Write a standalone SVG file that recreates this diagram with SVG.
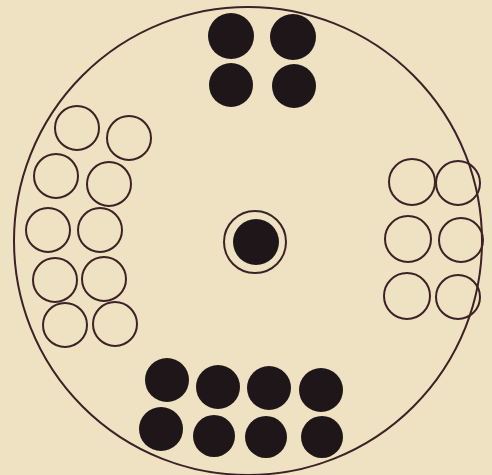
<svg xmlns="http://www.w3.org/2000/svg" width="492" height="475" viewBox="0 0 492 475">
<style>
.o{fill:none;stroke:#3a2226;stroke-width:2}
.f{fill:#1f1619;stroke:none}
</style>
<rect x="0" y="0" width="492" height="475" fill="#eee2c2"/>
<g id="outer"><circle class="o" cx="248" cy="241" r="234"/></g>
<g id="top">
<circle class="f" cx="231" cy="36" r="23"/>
<circle class="f" cx="293" cy="37" r="23"/>
<circle class="f" cx="231" cy="85" r="22"/>
<circle class="f" cx="294" cy="86" r="22"/>
</g>
<g id="center">
<circle class="o" cx="255" cy="242" r="31"/>
<circle class="f" cx="256" cy="242" r="23"/>
</g>
<g id="left">
<circle class="o" cx="77" cy="128" r="22"/>
<circle class="o" cx="129" cy="138" r="22"/>
<circle class="o" cx="56" cy="176" r="22"/>
<circle class="o" cx="109" cy="184" r="22"/>
<circle class="o" cx="48" cy="230" r="22"/>
<circle class="o" cx="100" cy="230" r="22"/>
<circle class="o" cx="55" cy="280" r="22"/>
<circle class="o" cx="104" cy="279" r="22"/>
<circle class="o" cx="65" cy="325" r="22"/>
<circle class="o" cx="115" cy="324" r="22"/>
</g>
<g id="right">
<circle class="o" cx="412" cy="182" r="23"/>
<circle class="o" cx="458" cy="183" r="22"/>
<circle class="o" cx="408" cy="239" r="23"/>
<circle class="o" cx="461" cy="240" r="22"/>
<circle class="o" cx="407" cy="296" r="23"/>
<circle class="o" cx="458" cy="297" r="22"/>
</g>
<g id="bottom">
<circle class="f" cx="167" cy="380" r="22"/>
<circle class="f" cx="218" cy="387" r="22"/>
<circle class="f" cx="269" cy="388" r="22"/>
<circle class="f" cx="321" cy="390" r="22"/>
<circle class="f" cx="161" cy="429" r="22"/>
<circle class="f" cx="214" cy="436" r="21"/>
<circle class="f" cx="266" cy="437" r="21"/>
<circle class="f" cx="322" cy="437" r="21"/>
</g>
<g id="connectors"/>
</svg>
